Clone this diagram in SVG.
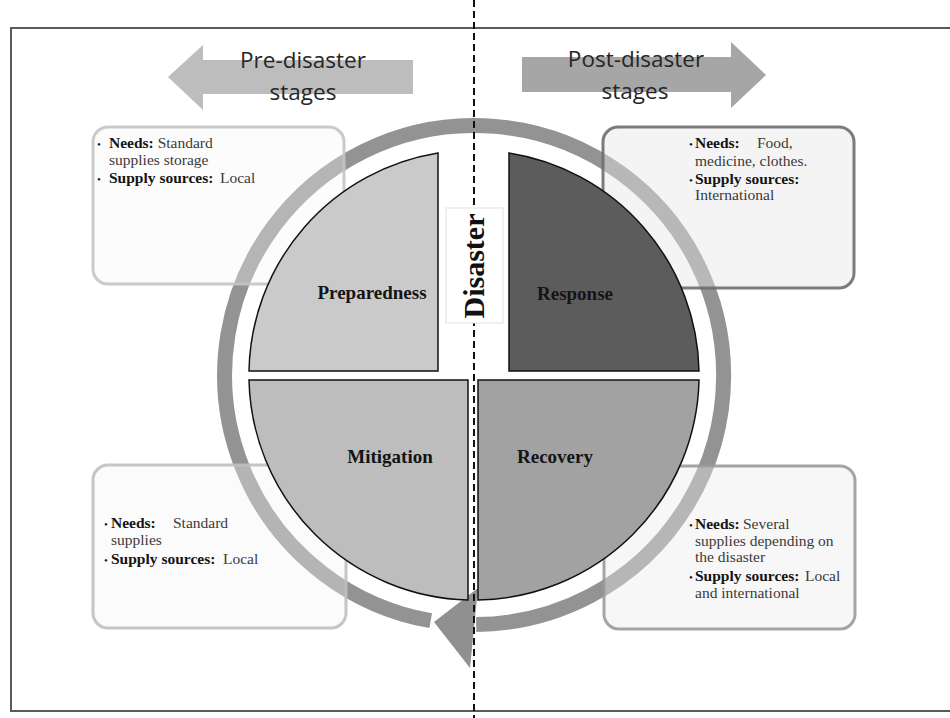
<svg xmlns="http://www.w3.org/2000/svg" width="950" height="718" viewBox="0 0 950 718">
  <style>
    .frame { fill: none; stroke: #5a5a5a; stroke-width: 2; }
    .stage { font-family: "Open Sans", Lato, sans-serif; font-size: 22.5px; fill: #262626; text-anchor: middle; }
    .quad { stroke: #111; stroke-width: 1.5; }
    .qlabel { font-family: "Liberation Serif", "Times New Roman", serif; font-size: 19px; font-weight: bold; fill: #141414; text-anchor: middle; }
    .box { stroke-width: 3; }
    .bt { font-family: "Liberation Serif", "Times New Roman", serif; font-size: 15.5px; fill: #3a3a3a; }
    .b { font-weight: bold; fill: #141414; }
    .bul { font-size: 11px; fill: #141414; }
    .ring { fill: none; stroke: #939393; stroke-width: 15; }
    .dash { stroke: #111; stroke-width: 2; stroke-dasharray: 7 4; }
  </style>

  <rect x="0" y="0" width="950" height="718" fill="#ffffff"/>
  <path class="frame" d="M950,28 H11 V711 H950"/>

  <g id="pre-disaster-arrow">
    <polygon points="413,60 203,60 203,45 168,77 203,110 203,94 413,94" fill="#bdbdbd"/>
    <text class="stage" x="303" y="68">Pre-disaster</text>
    <text class="stage" x="303" y="100">stages</text>
  </g>

  <g id="post-disaster-arrow">
    <polygon points="522,57 731,57 731,42 766,75 731,108 731,92 522,92" fill="#a6a6a6"/>
    <text class="stage" x="636" y="67">Post-disaster</text>
    <text class="stage" x="635" y="99">stages</text>
  </g>

  <g id="connectors">
    <path class="ring" d="M430.7,620.7 A249.5,249.5 0 1,1 476.2,624.5"/>
    <polygon points="478,588 470,668 434,622" fill="#909090"/>
  </g>

  <g id="box-pre-top">
    <rect class="box" x="93" y="127" width="251" height="157" rx="15" fill="#f7f7f7" fill-opacity="0.35" stroke="#c4c4c4" stroke-opacity="0.9"/>
    <text class="bt" y="148"><tspan class="bul" x="97">•</tspan><tspan class="b" x="109">Needs:</tspan> Standard</text>
    <text class="bt" x="109" y="165">supplies storage</text>
    <text class="bt" y="183"><tspan class="bul" x="97">•</tspan><tspan class="b" x="109">Supply sources:</tspan><tspan x="220">Local</tspan></text>
  </g>

  <g id="box-post-top">
    <rect class="box" x="603" y="127" width="251" height="161" rx="15" fill="#e6e6e6" fill-opacity="0.45" stroke="#6e6e6e" stroke-width="2.5" stroke-opacity="0.9"/>
    <text class="bt" y="148"><tspan class="bul" x="689">•</tspan><tspan class="b" x="695">Needs:</tspan><tspan x="757">Food,</tspan></text>
    <text class="bt" x="695" y="166">medicine, clothes.</text>
    <text class="bt" y="184"><tspan class="bul" x="689">•</tspan><tspan class="b" x="695">Supply sources:</tspan></text>
    <text class="bt" x="695" y="200">International</text>
  </g>

  <g id="box-pre-bottom">
    <rect class="box" x="93" y="465" width="253" height="163" rx="15" fill="#f4f4f4" fill-opacity="0.35" stroke="#bfbfbf" stroke-opacity="0.9"/>
    <text class="bt" y="528"><tspan class="bul" x="104">•</tspan><tspan class="b" x="111">Needs:</tspan><tspan x="173">Standard</tspan></text>
    <text class="bt" x="111" y="545">supplies</text>
    <text class="bt" y="564"><tspan class="bul" x="104">•</tspan><tspan class="b" x="111">Supply sources:</tspan><tspan x="223">Local</tspan></text>
  </g>

  <g id="box-post-bottom">
    <rect class="box" x="604" y="466" width="251" height="163" rx="15" fill="#ececec" fill-opacity="0.4" stroke="#9a9a9a" stroke-opacity="0.9"/>
    <text class="bt" y="529"><tspan class="bul" x="689">•</tspan><tspan class="b" x="695">Needs:</tspan><tspan x="743">Several</tspan></text>
    <text class="bt" y="546"><tspan x="695">supplies depending</tspan><tspan x="818">on</tspan></text>
    <text class="bt" x="695" y="562">the disaster</text>
    <text class="bt" y="581"><tspan class="bul" x="689">•</tspan><tspan class="b" x="695">Supply sources:</tspan><tspan x="805">Local</tspan></text>
    <text class="bt" x="695" y="598">and international</text>
  </g>

  <g id="preparedness">
    <path class="quad" fill="#cacaca" d="M438,371 L438,153 A225,225 0 0,0 249,371 Z"/>
    <text class="qlabel" x="372" y="299">Preparedness</text>
  </g>
  <g id="response">
    <path class="quad" fill="#5c5c5c" d="M509,371 L509,153 A225,225 0 0,1 699,371 Z"/>
    <text class="qlabel" x="575" y="300">Response</text>
  </g>
  <g id="mitigation">
    <path class="quad" fill="#bdbdbd" d="M468,380 L249,380 A225,225 0 0,0 468,600 Z"/>
    <text class="qlabel" x="390" y="463">Mitigation</text>
  </g>
  <g id="recovery">
    <path class="quad" fill="#a2a2a2" d="M478,380 L478,600 A225,225 0 0,0 699,380 Z"/>
    <text class="qlabel" x="555" y="463">Recovery</text>
  </g>

  <line class="dash" x1="474" y1="0" x2="474" y2="718"/>

  <g id="disaster">
    <rect x="446" y="208" width="57" height="115" fill="#ffffff" stroke="#e2e2e2" stroke-width="1"/>
    <text transform="translate(484,266) rotate(-90)" text-anchor="middle" font-family="'Liberation Serif', 'Times New Roman', serif" font-size="30" font-weight="bold" fill="#111">Disaster</text>
  </g>
</svg>
